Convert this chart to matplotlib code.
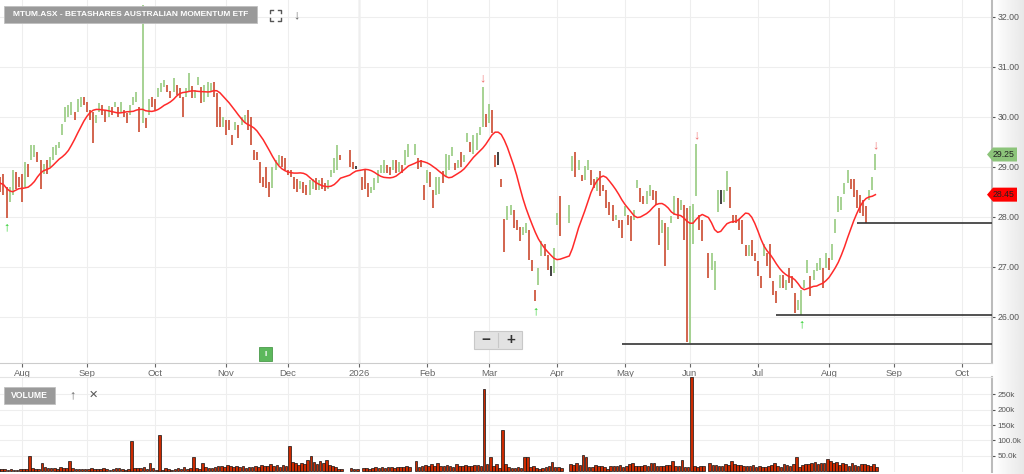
import matplotlib
matplotlib.use("Agg")
import matplotlib.pyplot as plt
import numpy as np
import pandas as pd
from matplotlib.patches import Rectangle, Polygon
from matplotlib.lines import Line2D
from matplotlib.transforms import blended_transform_factory

plt.rcParams['font.family'] = ['Liberation Sans', 'DejaVu Sans']

title = "MTUM.ASX - BETASHARES AUSTRALIAN MOMENTUM ETF"
first_day = "2025-07-22"
last_day = "2026-08-24"
axis_end = "2026-10-30"
holidays = ["2025-12-25", "2025-12-26", "2026-01-01", "2026-01-26",
            "2026-04-03", "2026-04-06", "2026-06-08"]

# daily bars, one line per month (Jul-25 .. Aug-26)
lows = [
    28.55, 28.50, 28.45, 27.98, 28.30, 28.45, 28.55, 28.60,
    28.30, 28.60, 28.80, 29.14, 29.20, 29.10, 28.55, 28.85, 28.85, 29.00, 29.15, 29.25, 29.38, 29.65, 29.90, 30.00, 30.05, 29.95, 30.10, 30.20, 30.25,
    30.10, 29.95, 29.48, 29.88, 30.10, 30.05, 29.90, 30.00, 30.05, 30.20, 30.00, 30.10, 30.00, 29.88, 30.05, 30.25, 30.30, 29.70, 29.88, 29.78, 30.05, 30.20,
    30.15, 30.40, 30.50, 30.60, 30.50, 30.38, 30.50, 30.45, 30.38, 30.00, 30.40, 30.50, 30.38, 30.38, 30.65, 30.28, 30.30, 30.40, 30.50, 30.40, 29.80, 29.80, 29.80,
    29.65, 29.75, 29.45, 29.74, 29.58, 29.84, 29.88, 29.74, 29.44, 29.14, 29.15, 28.68, 28.60, 28.58, 28.40, 28.58, 28.94, 29.04, 29.00, 28.95,
    28.84, 28.80, 28.55, 28.50, 28.55, 28.48, 28.45, 28.44, 28.55, 28.54, 28.54, 28.55, 28.52, 28.55, 28.80, 28.88, 28.94, 29.14, 29.00, 28.97, 28.97,
    28.54, 28.55, 28.40, 28.48, 28.54, 28.68, 28.88, 28.88, 28.88, 28.84, 28.94, 28.88, 28.90, 28.88, 29.04, 29.20, 29.24, 28.97, 29.00, 28.34,
    28.67, 28.60, 28.17, 28.44, 28.47, 28.67, 28.81, 28.95, 29.21, 28.94, 28.98, 29.00, 29.10, 29.50, 29.30, 29.27, 29.34, 29.64, 29.81, 29.81,
    29.87, 29.67, 29.00, 29.04, 28.61, 27.31, 27.94, 28.04, 27.77, 27.74, 27.51, 27.64, 27.67, 27.14, 26.91, 26.31, 26.64, 27.21, 27.21, 26.94, 26.81, 26.87,
    27.84, 27.61, 27.87, 28.91, 28.81, 28.94, 28.71, 28.74, 28.94, 28.64, 28.57, 28.51, 28.41, 28.51, 28.17, 28.04, 27.91, 27.94, 27.77, 27.57,
    28.01, 27.84, 27.51, 27.94, 28.57, 28.31, 28.27, 28.27, 28.41, 28.34, 28.24, 27.44, 27.67, 27.01, 27.34, 27.87, 28.04, 27.97, 28.14, 27.54, 25.50,
    25.48, 27.47, 28.41, 27.74, 27.51, 26.77, 26.94, 26.54, 28.11, 28.27, 28.30, 28.51, 28.17, 27.87, 27.87, 27.74, 27.47, 27.21, 27.21, 27.21, 27.11,
    26.81, 26.57, 27.21, 27.01, 26.77, 26.44, 26.27, 26.57, 26.57, 26.54, 26.67, 26.57, 26.07, 26.14, 26.04, 26.57, 26.87, 26.41, 26.74, 26.91, 26.94, 26.57, 26.97,
    26.94, 27.14, 27.67, 28.11, 28.14, 28.47, 28.67, 28.55, 28.40, 28.18, 28.08, 28.02, 27.87, 28.34, 28.54, 28.94,
]
highs = [
    28.85, 28.80, 28.85, 28.60, 28.60, 28.95, 28.90, 28.80,
    28.85, 29.10, 29.05, 29.44, 29.45, 29.30, 29.15, 29.05, 29.15, 29.20, 29.40, 29.45, 29.50, 29.85, 30.20, 30.25, 30.30, 30.10, 30.35, 30.40, 30.40,
    30.30, 30.15, 30.10, 30.05, 30.28, 30.25, 30.15, 30.22, 30.20, 30.30, 30.20, 30.30, 30.15, 30.08, 30.25, 30.40, 30.50, 30.20, 32.24, 29.98, 30.35, 30.40,
    30.35, 30.58, 30.68, 30.75, 30.65, 30.52, 30.78, 30.65, 30.58, 30.40, 30.58, 30.88, 30.62, 30.55, 30.80, 30.60, 30.65, 30.70, 30.68, 30.70, 30.48, 30.20, 30.00,
    29.95, 29.95, 29.65, 29.90, 29.84, 30.00, 30.04, 30.14, 30.00, 29.34, 29.30, 29.10, 28.80, 29.00, 28.70, 29.00, 29.14, 29.24, 29.22, 29.18,
    28.95, 28.95, 28.80, 28.75, 28.72, 28.70, 28.65, 28.74, 28.75, 28.78, 28.74, 28.78, 28.68, 28.74, 28.95, 29.18, 29.44, 29.25, 29.34, 29.10, 29.02,
    28.80, 28.94, 28.68, 28.60, 28.78, 28.94, 29.04, 29.14, 29.04, 29.00, 29.14, 29.14, 29.10, 29.04, 29.34, 29.47, 29.47, 29.17, 29.14, 28.64,
    28.94, 28.90, 28.54, 28.81, 28.81, 28.91, 29.27, 29.25, 29.41, 29.07, 29.15, 29.31, 29.24, 29.67, 29.50, 29.64, 29.67, 29.81, 30.61, 30.07,
    30.27, 30.14, 29.24, 29.31, 28.77, 27.97, 28.21, 28.24, 28.14, 27.94, 27.81, 27.81, 27.87, 27.74, 27.14, 26.54, 26.97, 27.51, 27.47, 27.24, 27.01, 27.37,
    28.07, 28.41, 28.24, 29.21, 29.31, 29.14, 28.84, 29.01, 29.14, 28.94, 28.77, 28.81, 28.91, 28.64, 28.54, 28.31, 28.24, 28.04, 27.94, 27.94,
    28.21, 28.04, 28.01, 28.14, 28.74, 28.57, 28.41, 28.51, 28.64, 28.54, 28.51, 28.17, 27.94, 27.87, 27.81, 28.01, 28.41, 28.37, 28.34, 28.24, 28.17,
    28.21, 28.27, 29.47, 28.04, 27.94, 27.27, 27.27, 27.11, 28.54, 28.54, 28.54, 28.91, 28.61, 28.04, 28.04, 27.97, 27.94, 27.44, 27.44, 27.54, 27.27,
    27.11, 26.81, 27.47, 27.27, 27.47, 26.71, 26.51, 26.84, 26.84, 26.74, 26.97, 26.81, 26.47, 26.34, 26.54, 26.74, 27.14, 26.81, 26.94, 27.07, 27.17, 26.97, 27.27,
    27.17, 27.47, 27.97, 28.41, 28.40, 28.67, 28.94, 28.77, 28.77, 28.54, 28.44, 28.34, 28.21, 28.54, 28.81, 29.27,
]
closes = [
    28.70, 28.60, 28.50, 28.10, 28.55, 28.85, 28.70, 28.65,
    28.40, 29.00, 28.90, 29.40, 29.42, 29.15, 28.85, 29.00, 28.90, 29.15, 29.35, 29.40, 29.45, 29.80, 30.15, 30.20, 30.25, 30.00, 30.30, 30.35, 30.30,
    30.15, 30.00, 29.90, 30.00, 30.22, 30.10, 29.95, 30.15, 30.10, 30.25, 30.05, 30.25, 30.05, 29.95, 30.20, 30.35, 30.45, 29.80, 30.00, 29.85, 30.30, 30.25,
    30.20, 30.55, 30.62, 30.70, 30.60, 30.42, 30.72, 30.50, 30.42, 30.10, 30.50, 30.80, 30.45, 30.50, 30.75, 30.35, 30.55, 30.60, 30.62, 30.45, 29.90, 29.85, 29.95,
    29.90, 29.85, 29.50, 29.85, 29.65, 29.95, 30.00, 29.80, 29.50, 29.20, 29.18, 28.75, 28.65, 28.60, 28.45, 28.95, 29.10, 29.20, 29.15, 29.00,
    28.88, 28.85, 28.60, 28.55, 28.68, 28.52, 28.50, 28.62, 28.70, 28.58, 28.70, 28.60, 28.55, 28.70, 28.92, 29.10, 29.40, 29.20, 29.05, 29.00, 29.00,
    28.60, 28.58, 28.45, 28.55, 28.72, 28.90, 29.00, 29.10, 28.95, 28.88, 29.10, 28.95, 29.05, 29.00, 29.30, 29.42, 29.45, 29.05, 29.02, 28.40,
    28.90, 28.65, 28.25, 28.75, 28.78, 28.72, 29.20, 29.22, 29.38, 29.00, 29.10, 29.05, 29.20, 29.60, 29.35, 29.60, 29.62, 29.78, 30.20, 29.95,
    30.20, 29.75, 29.05, 29.05, 28.65, 27.40, 28.15, 28.20, 27.85, 27.80, 27.60, 27.75, 27.82, 27.20, 26.95, 26.40, 26.90, 27.45, 27.25, 27.00, 27.00, 27.30,
    28.00, 27.70, 28.20, 29.15, 28.95, 29.00, 28.75, 28.95, 29.10, 28.70, 28.60, 28.75, 28.60, 28.53, 28.25, 28.10, 27.98, 28.02, 27.85, 27.62,
    28.18, 27.90, 27.60, 28.10, 28.70, 28.38, 28.30, 28.45, 28.60, 28.50, 28.30, 27.55, 27.90, 27.10, 27.75, 27.98, 28.35, 28.30, 28.32, 27.60, 27.50,
    28.00, 28.20, 28.60, 27.80, 27.60, 26.85, 27.00, 27.05, 28.50, 28.50, 28.52, 28.85, 28.25, 27.95, 27.92, 27.80, 27.55, 27.28, 27.40, 27.25, 27.15,
    26.88, 26.62, 27.42, 27.22, 26.85, 26.50, 26.32, 26.80, 26.70, 26.72, 26.70, 26.62, 26.12, 26.30, 26.50, 26.70, 27.10, 26.50, 26.90, 27.02, 27.12, 26.65, 27.20,
    27.10, 27.42, 27.92, 28.35, 28.38, 28.62, 28.90, 28.60, 28.45, 28.32, 28.22, 28.17, 28.02, 28.40, 28.65, 29.25,
]
# volume in thousands
volumes = [
    8, 6, 7, 5, 6, 5, 5, 6,
    6, 7, 49, 9, 7, 8, 28, 12, 10, 9, 11, 8, 12, 9, 10, 33, 10, 7, 8, 6, 7,
    6, 9, 8, 7, 6, 10, 7, 5, 6, 9, 10, 6, 5, 8, 97, 10, 11, 9, 12, 8, 25, 9,
    5, 117, 5, 9, 7, 5, 8, 10, 6, 12, 7, 9, 47, 10, 8, 28, 14, 10, 9, 13, 18, 15, 12,
    20, 17, 14, 15, 12, 16, 10, 14, 13, 15, 14, 20, 17, 16, 22, 18, 19, 13, 20, 17,
    82, 30, 25, 20, 28, 22, 35, 49, 30, 22, 32, 26, 36, 20, 15, 12, 8, 6, 9, 8, 7,
    9, 10, 8, 11, 12, 9, 13, 10, 12, 14, 11, 13, 12, 14, 15, 13, 33, 14, 16, 20,
    18, 22, 15, 25, 17, 16, 20, 15, 14, 24, 16, 18, 20, 17, 15, 19, 20, 18, 267, 22,
    45, 15, 22, 10, 134, 22, 12, 10, 10, 12, 9, 47, 47, 12, 15, 11, 8, 10, 12, 18, 30, 14,
    14, 10, 22, 20, 25, 20, 54, 45, 14, 12, 20, 18, 15, 12, 8, 15, 18, 15, 20, 14,
    18, 24, 25, 16, 15, 17, 20, 15, 25, 27, 18, 16, 15, 20, 19, 33, 18, 15, 36, 14, 12,
    308, 15, 12, 18, 16, 25, 20, 19, 18, 17, 24, 20, 33, 22, 21, 20, 18, 15, 17, 19, 14,
    15, 12, 14, 16, 20, 25, 18, 14, 22, 20, 16, 24, 47, 14, 20, 22, 24, 25, 30, 22, 28, 26, 40,
    34, 25, 30, 20, 26, 22, 18, 25, 20, 17, 22, 24, 20, 18, 24, 12,
]

support_levels = [25.46, 26.04, 27.88]
support_from = ["2026-04-30", "2026-07-09", "2026-08-14"]
buy_signals = ["2025-07-25", "2026-03-23", "2026-07-21"]
sell_signals = ["2026-02-26", "2026-06-03", "2026-08-24"]
price_ticks = [26, 27, 28, 29, 30, 31, 32]
vol_ticks = [50, 100, 150, 200, 250]
vol_tick_labels = ["50.0k", "100.0k", "150k", "200k", "250k"]

# x = weekday index counted from 1 Aug 2025
all_days = pd.bdate_range(first_day, axis_end)
origin = all_days.get_loc(pd.Timestamp("2025-08-01"))


def pos(d):
    return all_days.get_loc(pd.Timestamp(d)) - origin


trade_days = [d for d in pd.bdate_range(first_day, last_day)
              if d.strftime("%Y-%m-%d") not in holidays]
n = min(len(trade_days), len(lows), len(highs), len(closes), len(volumes))
x = np.array([pos(d) for d in trade_days[:n]])
lo = np.array(lows[:n])
hi = np.array(highs[:n])
cl = np.array(closes[:n])
vol = np.array(volumes[:n])
day_idx = {d.strftime("%Y-%m-%d"): k for k, d in enumerate(trade_days[:n])}

colors = []
prev = cl[0]
for c in cl:
    if c > prev + 1e-9:
        colors.append("#9fcf8a")
    elif c < prev - 1e-9:
        colors.append("#cf5840")
    else:
        colors.append("#333333")
    prev = c

# 10 day average, lightly smoothed
ma = pd.Series(cl).rolling(10, min_periods=1).mean().rolling(3, min_periods=1).mean()

month_starts = pd.date_range("2025-08-01", "2026-10-01", freq="MS")
month_pos = [pos(pd.bdate_range(m, periods=1)[0]) for m in month_starts]
month_labels = [str(m.year) if m.month == 1 else m.strftime("%b") for m in month_starts]

x_left = -22 / 3.092
x_right = 970 / 3.092


def fx(px):
    return px / 1024


def fy(py):
    return 1 - py / 474


fig = plt.figure(figsize=(10.24, 4.74), dpi=100)

# light strip at the right edge
gax = fig.add_axes([993 / 1024, 0, 31 / 1024, 1])
gax.imshow(np.linspace(1.0, 0.91, 60)[None, :], cmap="gray", vmin=0, vmax=1,
           aspect="auto", extent=[0, 1, 0, 1])
gax.axis("off")

ax = fig.add_axes([0, fy(363), fx(992), 363 / 474])
axv = fig.add_axes([0, fy(472), fx(992), 95 / 474])

# price panel
ax.vlines(x, lo, hi, colors=colors, linewidth=1.3, zorder=3)
ax.plot(x, ma, color="#ff2a2a", linewidth=1.1, zorder=4)
for lvl, start in zip(support_levels, support_from):
    ax.hlines(lvl, pos(start), x_right, color="#333333", linewidth=1.2, zorder=4)

for d in buy_signals:
    k = day_idx[d]
    ax.annotate("↑", xy=(x[k], lo[k]), xytext=(0, -7), textcoords="offset points",
                ha="center", va="center", color="#22cc22", fontsize=9,
                fontweight="bold", annotation_clip=False, zorder=5)
for d in sell_signals:
    k = day_idx[d]
    ax.annotate("↓", xy=(x[k], hi[k]), xytext=(0, 6), textcoords="offset points",
                ha="center", va="center", color="#f07070", fontsize=9,
                annotation_clip=False, zorder=5)

ax.set_xlim(x_left, x_right)
ax.set_ylim(25.08, 32.34)
ax.set_yticks(price_ticks)
ax.set_yticklabels([f"{v:.2f}" for v in price_ticks])
ax.yaxis.tick_right()
ax.tick_params(axis="y", length=2, pad=2, labelsize=6.3, colors="#555555")
ax.set_xticks(month_pos)
ax.set_xticklabels(month_labels)
ax.tick_params(axis="x", length=3, pad=1.5, labelsize=6.8, colors="#666666")
ax.grid(True, color="#eeeeee", linewidth=0.8, zorder=0)
ax.axvline(pos("2026-01-01"), color="#cfcfcf", linewidth=1, zorder=1)
for s in ["top", "left"]:
    ax.spines[s].set_visible(False)
ax.spines["bottom"].set_color("#cccccc")
ax.spines["right"].set_color("#bbbbbb")
ax.spines["right"].set_linewidth(1.5)

# last price and average tags
bt = blended_transform_factory(fig.transFigure, ax.transData)
for val, face in [(cl[-1], "#8cc47a"), (ma.iloc[-1], "#ff0000")]:
    h = 7 / 50
    tag = Polygon([(fx(987), val), (fx(993), val + h), (fx(1017), val + h),
                   (fx(1017), val - h), (fx(993), val - h)], closed=True,
                  facecolor=face, edgecolor="none", transform=bt, clip_on=False, zorder=6)
    ax.add_patch(tag)
    ax.text(fx(1004), val, f"{val:.2f}", transform=bt, ha="center", va="center",
            fontsize=6.3, color="#222222", clip_on=False, zorder=7)

# volume panel
axv.bar(x, vol, width=0.85, align="edge", color="#cc2a00", edgecolor="#111111",
        linewidth=0.5, zorder=3)
axv.set_xlim(x_left, x_right)
axv.set_ylim(-3, 307)
axv.set_yticks(vol_ticks)
axv.set_yticklabels(vol_tick_labels)
axv.yaxis.tick_right()
axv.tick_params(axis="y", length=2, pad=2, labelsize=5.8, colors="#555555")
axv.set_xticks(month_pos)
axv.tick_params(axis="x", length=0, labelbottom=False)
axv.grid(True, color="#eeeeee", linewidth=0.8, zorder=0)
for s in ["left", "bottom"]:
    axv.spines[s].set_visible(False)
axv.spines["top"].set_color("#e4e4e4")
axv.spines["right"].set_color("#bbbbbb")
axv.spines["right"].set_linewidth(1.5)

# header boxes and controls
fig.add_artist(Rectangle((fx(4), fy(23)), fx(253), 17 / 474, facecolor="#9a9a9a",
                         edgecolor="#c0c0c0", linewidth=0.6, transform=fig.transFigure, zorder=8))
fig.text(fx(130.5), fy(14.8), title, ha="center", va="center", color="white",
         fontsize=6.05, fontweight="bold", zorder=9)
for cx, cy, dx, dy in [(270, 10, 1, 1), (281, 10, -1, 1), (270, 21, 1, -1), (281, 21, -1, -1)]:
    fig.add_artist(Line2D([fx(cx), fx(cx), fx(cx + 3 * dx)],
                          [fy(cy + 3 * dy), fy(cy), fy(cy)],
                          color="#555555", linewidth=1.0, transform=fig.transFigure, zorder=9))
fig.text(fx(296), fy(15), "↓", ha="center", va="center", color="#666666", fontsize=9, zorder=9)

fig.add_artist(Rectangle((fx(4), fy(404)), fx(51), 17 / 474, facecolor="#9a9a9a",
                         edgecolor="#c0c0c0", linewidth=0.6, transform=fig.transFigure, zorder=8))
fig.text(fx(29.5), fy(395.5), "VOLUME", ha="center", va="center", color="white",
         fontsize=6.2, fontweight="bold", zorder=9)
fig.text(fx(72), fy(395), "↑", ha="center", va="center", color="#666666", fontsize=9, zorder=9)
fig.text(fx(93), fy(395), "✕", ha="center", va="center", color="#555555", fontsize=8, zorder=9)

fig.add_artist(Rectangle((fx(474), fy(349)), fx(48), 18 / 474, facecolor="#e2e2e2",
                         edgecolor="#c8c8c8", linewidth=0.8, transform=fig.transFigure, zorder=8))
fig.add_artist(Line2D([fx(498), fx(498)], [fy(347), fy(333)], color="#c8c8c8",
                      linewidth=0.8, transform=fig.transFigure, zorder=9))
fig.text(fx(486), fy(340), "−", ha="center", va="center", color="#333333",
         fontsize=11, fontweight="bold", zorder=9)
fig.text(fx(511), fy(340), "+", ha="center", va="center", color="#333333",
         fontsize=11, fontweight="bold", zorder=9)

fig.add_artist(Rectangle((fx(259), fy(361)), fx(13), 14 / 474, facecolor="#5cb85c",
                         edgecolor="#4a9a4a", linewidth=0.6, transform=fig.transFigure, zorder=8))
fig.text(fx(265.5), fy(354), "I", ha="center", va="center", color="white",
         fontsize=6, fontweight="bold", zorder=9)

fig.savefig("out.png", dpi=100)
